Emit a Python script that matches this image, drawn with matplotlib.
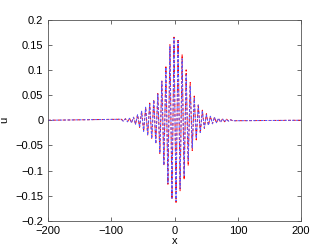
import matplotlib
matplotlib.use("Agg")
import matplotlib.pyplot as plt

# crest/trough positions of the wave packet
x_pts = [-200.0,
         -84.2, -81.0, -77.8, -74.6, -71.4, -68.2, -65.0, -61.8, -58.6, -55.4,
         -52.2, -49.0, -45.8, -42.6, -39.4, -36.2, -33.0, -29.8, -26.6, -23.4,
         -20.2, -17.0, -13.8, -10.6, -7.4, -4.2, -1.0, 2.2, 5.4, 8.6,
         11.8, 15.0, 18.2, 21.4, 24.6, 27.8, 31.0, 34.2, 37.4, 40.6,
         43.8, 47.0, 50.2, 53.4, 56.6, 59.8, 63.0, 66.2, 69.4, 72.6,
         75.8, 79.0, 82.2, 85.4, 88.6, 91.8,
         200.0]

# numerical solution (blue)
u_blue = [0.0,
          0.002, -0.002, 0.003, -0.003, 0.004, -0.005, 0.006, -0.008, 0.011, -0.014,
          0.018, -0.022, 0.026, -0.030, 0.033, -0.036, 0.040, -0.046, 0.052, -0.065,
          0.077, -0.089, 0.105, -0.125, 0.148, -0.155, 0.163, -0.160, 0.157, -0.135,
          0.122, -0.110, 0.090, -0.080, 0.068, -0.055, 0.044, -0.036, 0.030, -0.024,
          0.019, -0.015, 0.012, -0.010, 0.008, -0.007, 0.006, -0.005, 0.004, -0.004,
          0.003, -0.003, 0.002, -0.002, 0.001, -0.001,
          0.0]

# reference solution (red)
u_red = [0.0,
         0.002, -0.002, 0.003, -0.003, 0.004, -0.005, 0.006, -0.008, 0.011, -0.014,
         0.018, -0.022, 0.026, -0.030, 0.034, -0.037, 0.041, -0.047, 0.053, -0.066,
         0.078, -0.090, 0.106, -0.127, 0.150, -0.157, 0.165, -0.163, 0.161, -0.140,
         0.130, -0.118, 0.100, -0.090, 0.075, -0.060, 0.048, -0.039, 0.032, -0.026,
         0.020, -0.016, 0.013, -0.010, 0.008, -0.007, 0.006, -0.005, 0.004, -0.004,
         0.003, -0.003, 0.002, -0.002, 0.001, -0.001,
         0.0]

x_ticks = [-200, -100, 0, 100, 200]
x_labels = ["\u2212200", "\u2212100", "0", "100", "200"]
y_ticks = [-0.2, -0.15, -0.1, -0.05, 0, 0.05, 0.1, 0.15, 0.2]
y_labels = ["\u22120.2", "\u22120.15", "\u22120.1", "\u22120.05", "0",
            "0.05", "0.1", "0.15", "0.2"]

plt.rcParams["font.family"] = ["Liberation Sans", "DejaVu Sans"]
plt.rcParams["font.size"] = 8

fig = plt.figure(figsize=(3.32, 2.5), dpi=100, facecolor="w")
ax = fig.add_axes([0.145, 0.116, 0.762, 0.806])

ax.plot(x_pts, u_red, color="red", linestyle=(0, (3, 2)), linewidth=0.7)
ax.plot(x_pts, u_blue, color="#5555ff", linestyle=(0, (2.5, 1.5)), linewidth=0.7)

ax.set_xlim(-200, 200)
ax.set_ylim(-0.2, 0.2)
ax.set_xticks(x_ticks)
ax.set_xticklabels(x_labels)
ax.set_yticks(y_ticks)
ax.set_yticklabels(y_labels)
ax.tick_params(direction="in", length=3, width=0.5, colors="#333333",
               labelcolor="black", top=True, right=True)
for s in ax.spines.values():
    s.set_linewidth(0.6)
    s.set_color("#555555")

ax.set_xlabel("x", labelpad=0)
ax.set_ylabel("u", labelpad=4)

fig.savefig("out.png", dpi=100)
